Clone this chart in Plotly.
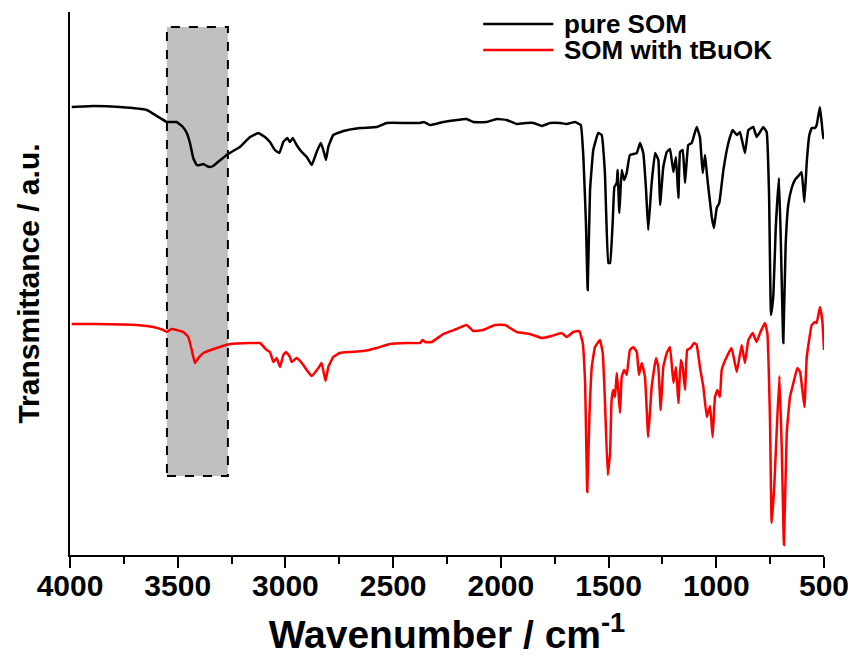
import plotly.graph_objects as go

# ---------------- data (wavenumber in cm^-1, transmittance in arbitrary units) ----------------
pure_wn = [3992, 3893, 3768, 3644, 3582, 3551, 3505, 3480, 3458, 3443, 3428, 3412, 3397, 3381, 3365,
           3350, 3336, 3319, 3296, 3273, 3243, 3211, 3164, 3126, 3095, 3072, 3049, 3028, 3010, 2991,
           2979, 2966, 2948, 2924, 2901, 2878, 2855, 2836, 2824, 2812, 2801, 2778, 2731, 2654, 2576,
           2530, 2437, 2375, 2357, 2329, 2267, 2159, 2128, 2066, 2019, 1973, 1926, 1880, 1849, 1810,
           1772, 1725, 1694, 1656, 1629, 1617, 1605, 1597, 1586, 1571, 1548, 1532, 1517, 1501, 1493,
           1481, 1473, 1462, 1458, 1450, 1439, 1428, 1416, 1401, 1369, 1354, 1339, 1326, 1316, 1300,
           1284, 1269, 1261, 1246, 1230, 1215, 1199, 1187, 1176, 1168, 1156, 1145, 1130, 1114, 1091,
           1076, 1063, 1052, 1044, 1034, 1021, 1011, 998, 986, 967, 944, 924, 905, 890, 867,
           851, 828, 813, 797, 782, 766, 755, 746, 735, 724, 709, 700, 689, 678, 666,
           650, 635, 615, 604, 591, 580, 568, 557, 542, 534, 519, 511, 503, 500]
pure_t = [448, 449, 448, 445, 437, 433, 433, 429, 422, 412, 397, 390, 390, 391, 389,
          388, 389, 392, 396, 400, 404, 408, 418, 422, 418, 413, 405, 402, 413, 417,
          413, 417, 410, 403, 398, 390, 403, 412, 405, 395, 408, 420, 424, 427, 428,
          432, 432, 432, 433, 430, 433, 436, 433, 433, 436, 435, 431, 432, 432, 429,
          432, 432, 431, 433, 430, 398, 332, 265, 365, 405, 422, 420, 382, 292, 292,
          332, 368, 372, 385, 342, 385, 375, 382, 400, 402, 412, 402, 365, 325, 372,
          402, 395, 350, 388, 403, 406, 383, 398, 357, 403, 405, 372, 410, 412, 428,
          418, 382, 400, 382, 362, 338, 327, 347, 352, 385, 412, 425, 420, 423, 402,
          425, 428, 418, 423, 428, 423, 360, 240, 260, 327, 377, 310, 212, 310, 350,
          367, 375, 380, 383, 353, 393, 420, 427, 427, 430, 448, 433, 417, 417]

tbuok_wn = [3992, 3892, 3690, 3613, 3567, 3551, 3528, 3474, 3451, 3435, 3420, 3404, 3381, 3319, 3257,
            3164, 3133, 3118, 3087, 3072, 3056, 3041, 3025, 3010, 2997, 2979, 2971, 2948, 2924, 2901,
            2878, 2847, 2832, 2814, 2801, 2778, 2747, 2700, 2639, 2576, 2515, 2437, 2375, 2363, 2352,
            2321, 2267, 2205, 2159, 2128, 2082, 2027, 1981, 1926, 1865, 1810, 1764, 1718, 1694, 1664,
            1636, 1620, 1609, 1599, 1589, 1578, 1563, 1540, 1527, 1517, 1504, 1493, 1486, 1478, 1470,
            1462, 1455, 1447, 1439, 1428, 1416, 1401, 1385, 1369, 1359, 1346, 1331, 1316, 1300, 1280,
            1269, 1258, 1246, 1230, 1215, 1199, 1187, 1176, 1165, 1156, 1145, 1135, 1119, 1103, 1091,
            1076, 1060, 1044, 1029, 1017, 1006, 995, 983, 975, 952, 929, 905, 882, 867, 851,
            831, 813, 797, 774, 763, 751, 743, 731, 720, 707, 696, 686, 673, 658, 642,
            624, 611, 591, 580, 557, 542, 534, 519, 508, 500]
tbuok_t = [231, 231, 230, 228, 225, 223, 226, 223, 218, 205, 192, 197, 202, 207, 211,
           212, 212, 212, 205, 203, 193, 197, 188, 200, 203, 198, 193, 197, 192, 185,
           179, 187, 192, 174, 188, 198, 202, 203, 204, 207, 211, 212, 212, 215, 213,
           213, 221, 226, 230, 224, 225, 230, 230, 223, 221, 217, 219, 222, 218, 223,
           224, 212, 172, 63, 138, 188, 208, 215, 202, 155, 80, 102, 155, 165, 158,
           182, 165, 142, 178, 185, 180, 205, 208, 203, 180, 192, 178, 118, 168, 197,
           188, 145, 188, 202, 208, 172, 188, 152, 195, 188, 165, 205, 207, 212, 210,
           188, 168, 138, 149, 118, 158, 165, 158, 185, 198, 207, 183, 210, 192, 215,
           222, 213, 222, 232, 222, 138, 32, 68, 122, 179, 105, 10, 122, 158, 172,
           187, 183, 148, 198, 230, 233, 232, 248, 235, 205]

series_names = ["pure SOM", "SOM with tBuOK"]
series_colors = ["#000000", "#ff0000"]
x_ticks = [4000, 3500, 3000, 2500, 2000, 1500, 1000, 500]

# highlighted O-H region (cm^-1) and its vertical extent (a.u.)
box_wn = [3550, 3267]
box_t = [79, 528]

# ---------------- figure ----------------
sans = "Liberation Sans, Arial, sans-serif"

fig = go.Figure()
fig.add_shape(type="rect", xref="x", yref="y", x0=box_wn[0], x1=box_wn[1], y0=box_t[0], y1=box_t[1],
              fillcolor="#c0c0c0", line=dict(color="black", width=2, dash="dash"), layer="below")

for wn, t, name, col in [(pure_wn, pure_t, series_names[0], series_colors[0]),
                         (tbuok_wn, tbuok_t, series_names[1], series_colors[1])]:
    fig.add_trace(go.Scatter(x=wn, y=t, mode="lines", name=name,
                             line=dict(color=col, width=2.5, shape="spline", smoothing=0.3),
                             showlegend=False))

# legend drawn as lines + text (long line samples as in original)
leg_y = [0.978, 0.93]
for yy, name, col in zip(leg_y, series_names, series_colors):
    fig.add_shape(type="line", xref="paper", yref="paper", x0=0.548, x1=0.641, y0=yy, y1=yy,
                  line=dict(color=col, width=2.5))
    fig.add_annotation(xref="paper", yref="paper", x=0.654, y=yy, text=name, showarrow=False,
                       xanchor="left", yanchor="middle", borderpad=0,
                       font=dict(family=sans, size=26, color="black", weight="bold"))

# page body adds an 8 px offset, so the figure is 8 px smaller and margins shifted
fig.update_layout(
    width=848, height=651,
    margin=dict(l=62, r=32, t=4, b=104),
    paper_bgcolor="white", plot_bgcolor="white",
    showlegend=False,
)
fig.update_xaxes(
    range=[4000, 500], tickmode="array", tickvals=x_ticks, ticktext=[str(v) for v in x_ticks],
    showline=True, linecolor="black", linewidth=2, mirror=False, automargin=False,
    ticks="outside", ticklen=11, tickwidth=2, tickcolor="black",
    minor=dict(ticks="outside", ticklen=7, tickwidth=2, tickcolor="black", dtick=250, tick0=500, showgrid=False),
    showgrid=False, zeroline=False, ticklabelstandoff=-8,
    tickfont=dict(family=sans, size=30, color="black", weight="bold"),
    title=dict(text="Wavenumber / cm<sup>-1</sup>", standoff=20,
               font=dict(family=sans, size=39, color="black", weight="bold")),
)
fig.update_yaxes(
    range=[0, 543], showline=True, linecolor="black", linewidth=2, mirror=False, automargin=False,
    ticks="", showticklabels=False, showgrid=False, zeroline=False,
    title=dict(text="Transmittance / a.u.", standoff=20,
               font=dict(family=sans, size=30, color="black", weight="bold")),
)

fig.write_html("out.html")
